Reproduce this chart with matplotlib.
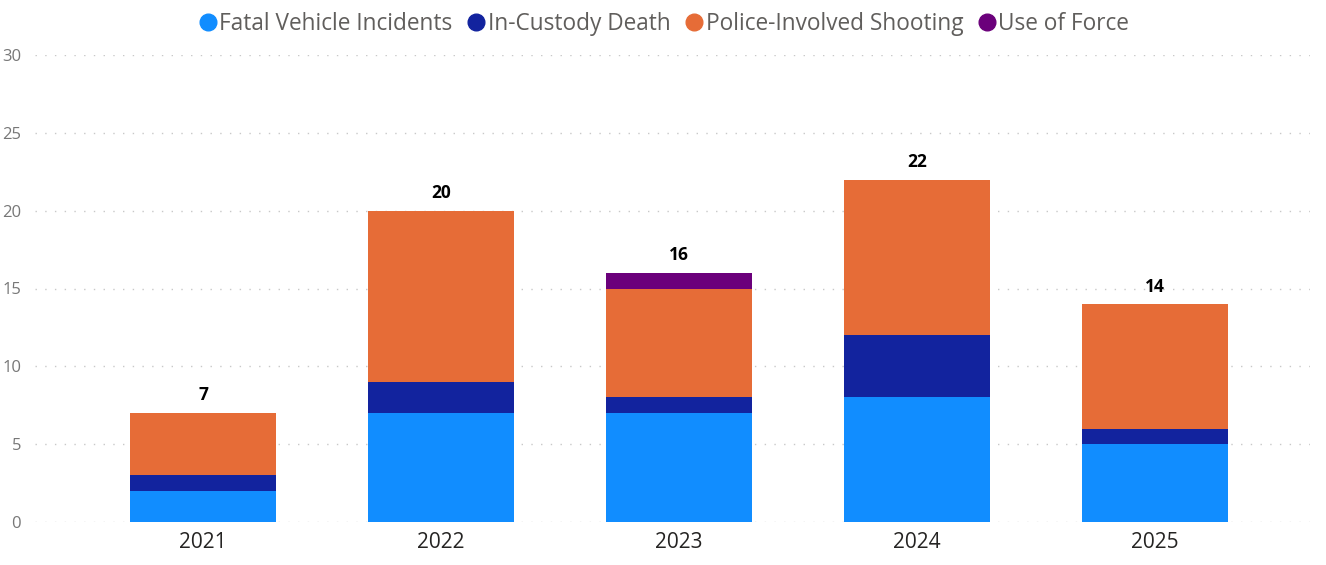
import numpy as np
import matplotlib.pyplot as plt
from matplotlib.lines import Line2D

years = ['2021', '2022', '2023', '2024', '2025']
series = ['Fatal Vehicle Incidents', 'In-Custody Death', 'Police-Involved Shooting', 'Use of Force']
fatal_vehicle = [2, 7, 7, 8, 5]
in_custody = [1, 2, 1, 4, 1]
police_shooting = [4, 11, 7, 10, 8]
use_of_force = [0, 0, 1, 0, 0]
colors = ['#118DFF', '#12239E', '#E66C37', '#6B007B']


def main():
    plt.rcParams['font.family'] = ['Open Sans', 'DejaVu Sans']

    fig = plt.figure(figsize=(13.26, 5.65), dpi=100)
    ax = fig.add_axes([35 / 1326, 1 - 522 / 565, (1310 - 35) / 1326, (522 - 55) / 565])

    x = np.arange(len(years))
    bottom = np.zeros(len(years))
    for vals, col in zip([fatal_vehicle, in_custody, police_shooting, use_of_force], colors):
        vals = np.array(vals, dtype=float)
        ax.bar(x, vals, width=0.613, bottom=bottom, color=col, zorder=3)
        bottom += vals

    for xi, tot in zip(x, bottom):
        ax.text(xi, tot + 0.55, str(int(tot)), ha='center', va='bottom',
                fontsize=12.5, fontweight='bold', color='black')

    ax.set_ylim(0, 30)
    ax.set_xlim(-0.706, 4.651)
    ax.set_yticks(range(0, 31, 5))
    ax.set_xticks(x)
    ax.set_xticklabels(years, fontsize=15, color='#252423')
    ax.tick_params(axis='y', labelsize=12, colors='#777777', length=0, pad=10)
    ax.tick_params(axis='x', length=0, pad=7)
    ax.grid(axis='y', linestyle=(0, (1, 6)), color='#C8C8C8', linewidth=1, zorder=0)
    for s in ax.spines.values():
        s.set_visible(False)

    handles = [Line2D([], [], marker='o', linestyle='', markersize=12, color=c) for c in colors]
    fig.legend(handles, series, loc='upper center', bbox_to_anchor=(0.5, 1.015), ncol=4,
               frameon=False, fontsize=16.3, labelcolor='#605E5C', handletextpad=0.0,
               columnspacing=0.55, handlelength=1.0)

    fig.savefig('out.png', dpi=100)


if __name__ == '__main__':
    main()
